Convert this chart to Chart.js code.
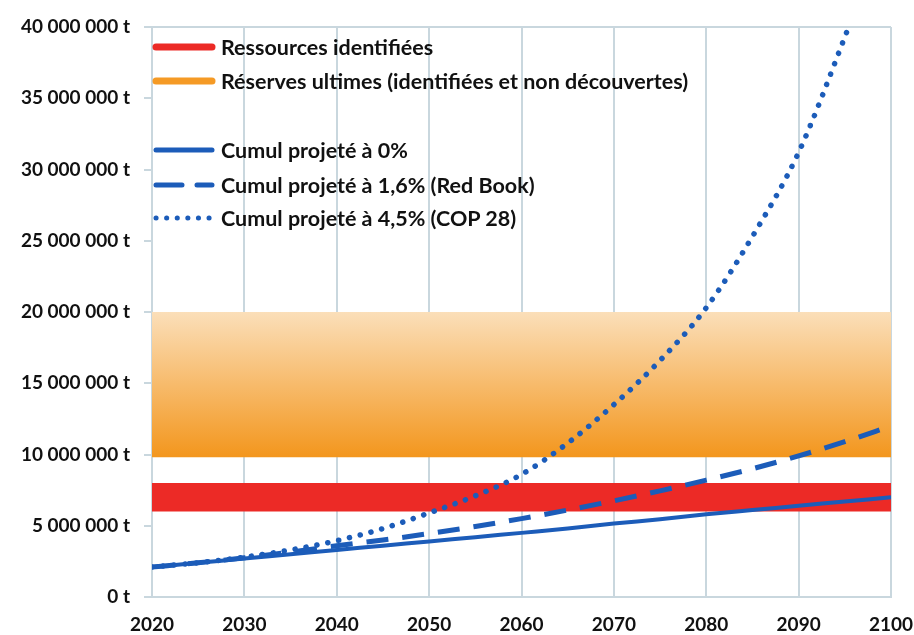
<!DOCTYPE html>
<html>
<head>
<meta charset="utf-8">
<script src="https://cdn.jsdelivr.net/npm/chart.js@4.4.1/dist/chart.umd.min.js"></script>
<style>
  html, body { margin: 0; padding: 0; background: #fff; }
  #wrap { position: relative; width: 914px; height: 635px; }
  #legend { position: absolute; left: 152px; top: 0; font-family: Lato, sans-serif; font-weight: bold; font-size: 21.5px; color: #111; }
  .item { position: absolute; left: 0; white-space: nowrap; display: flex; align-items: center; }
  .item svg { width: 64px; height: 12px; margin-right: 5px; }
</style>
</head>
<body>
<div id="wrap">
  <canvas id="chart" width="914" height="635"></canvas>
  <div id="legend"></div>
</div>
<script>
const years = [2020, 2025, 2030, 2035, 2040, 2045, 2050, 2055, 2060, 2065, 2070, 2075, 2080, 2085, 2090, 2095, 2100]
const cumul0 = [2.1, 2.4, 2.7, 3.0, 3.3, 3.6, 3.9, 4.2, 4.5, 4.8, 5.15, 5.45, 5.8, 6.1, 6.4, 6.7, 7.0]
const cumul16 = [2.1, 2.4, 2.75, 3.15, 3.6, 4.0, 4.45, 4.95, 5.5, 6.1, 6.75, 7.45, 8.2, 9.0, 9.9, 10.9, 12.0]
const cumul45 = [2.1, 2.4, 2.8, 3.3, 3.95, 4.8, 5.9, 7.1, 8.6, 10.8, 13.5, 16.6, 20.3, 25.3, 31.2, 39.3, 48.0]
const ressources = [6, 8]   // millions de tonnes
const reserves = [9.8, 20]
const yTicks = [0, 5, 10, 15, 20, 25, 30, 35, 40]

const blue = "#1c5cb9"
const red = "#ec2a26"
const M = 1000000

const pts = (arr) => years.map((y, i) => ({ x: y, y: arr[i] * M }))
const flat = (v) => [{ x: 2020, y: v * M }, { x: 2100, y: v * M }]

function orangeFill(ctx) {
  const chart = ctx.chart
  const { chartArea, scales } = chart
  if (!chartArea) return "#f5a740"
  const g = chart.ctx.createLinearGradient(0, scales.y.getPixelForValue(reserves[1] * M), 0, scales.y.getPixelForValue(reserves[0] * M))
  g.addColorStop(0, "#fbdfb9")
  g.addColorStop(1, "#f3961d")
  return g
}

const boxPlugin = {
  id: "box",
  afterDatasetsDraw(chart) {
    const { ctx, chartArea: a } = chart
    ctx.save()
    ctx.strokeStyle = "#c9d7de"
    ctx.lineWidth = 2
    ctx.beginPath()
    ctx.moveTo(a.left, a.top)
    ctx.lineTo(a.right, a.top)
    ctx.stroke()
    ctx.restore()
  },
}

const base = { pointRadius: 0, borderWidth: 0, showLine: true }

new Chart(document.getElementById("chart"), {
  type: "scatter",
  data: {
    datasets: [
      { ...base, label: "Cumul projeté à 4,5% (COP 28)", data: pts(cumul45), borderColor: blue, borderWidth: 5.5, borderDash: [0.1, 11], borderCapStyle: "round", cubicInterpolationMode: "monotone", fill: false },
      { ...base, label: "Cumul projeté à 1,6% (Red Book)", data: pts(cumul16), borderColor: blue, borderWidth: 5, borderDash: [22, 14], cubicInterpolationMode: "monotone", fill: false },
      { ...base, label: "Cumul projeté à 0%", data: pts(cumul0), borderColor: blue, borderWidth: 4, cubicInterpolationMode: "monotone", fill: false },
      { ...base, label: "Ressources identifiées", data: flat(ressources[1]), backgroundColor: red, fill: "+1" },
      { ...base, label: "ressources bas", data: flat(ressources[0]), fill: false },
      { ...base, label: "Réserves ultimes (identifiées et non découvertes)", data: flat(reserves[1]), backgroundColor: orangeFill, fill: "+1" },
      { ...base, label: "reserves bas", data: flat(reserves[0]), fill: false },
    ],
  },
  options: {
    responsive: false,
    animation: false,
    layout: { padding: { top: 27, right: 23, left: 0, bottom: 0 } },
    plugins: { legend: { display: false }, tooltip: { enabled: false } },
    scales: {
      x: {
        type: "linear",
        min: 2020,
        max: 2100,
        ticks: { stepSize: 10, color: "#111", font: { family: "Lato", weight: "bold", size: 19 }, padding: 16, callback: (v) => String(v) },
        grid: { color: "#c9d7de", lineWidth: 2, drawTicks: false },
        border: { color: "#c9d7de", width: 2 },
        afterFit: (s) => { s.height = 38; s.paddingLeft = 0; s.paddingRight = 0 },
      },
      y: {
        min: 0,
        max: 40 * M,
        afterBuildTicks: (s) => { s.ticks = yTicks.map((v) => ({ value: v * M })) },
        ticks: {
          color: "#111",
          font: { family: "Lato", weight: "bold", size: 19 },
          padding: 14,
          callback: (v) => String(v).replace(/\B(?=(\d{3})+(?!\d))/g, " ") + " t",
        },
        grid: { drawOnChartArea: false, color: "#c9d7de", lineWidth: 2, tickLength: 8 },
        border: { color: "#c9d7de", width: 2 },
        afterFit: (s) => { s.width = 152; s.paddingTop = 0; s.paddingBottom = 0 },
      },
    },
  },
  plugins: [boxPlugin],
})

// legende
const legendItems = [
  { text: "Ressources identifiées", y: 47, color: red, width: 7, dash: "" },
  { text: "Réserves ultimes (identifiées et non découvertes)", y: 81, color: "#f59a25", width: 7, dash: "" },
  { text: "Cumul projeté à 0%", y: 150, color: blue, width: 5, dash: "" },
  { text: "Cumul projeté à 1,6% (Red Book)", y: 185, color: blue, width: 5, dash: "26 15" },
  { text: "Cumul projeté à 4,5% (COP 28)", y: 218, color: blue, width: 5, dash: "0.1 10.5" },
]
const legend = document.getElementById("legend")
legendItems.forEach((it) => {
  const div = document.createElement("div")
  div.className = "item"
  div.style.top = (it.y - 13) + "px"
  div.style.height = "26px"
  div.innerHTML = '<svg viewBox="0 0 64 12"><line x1="4" y1="6" x2="60" y2="6" stroke="' + it.color +
    '" stroke-width="' + it.width + '" stroke-linecap="round"' + (it.dash ? ' stroke-dasharray="' + it.dash + '"' : "") +
    '/></svg><span>' + it.text + "</span>"
  legend.appendChild(div)
})
</script>
</body>
</html>
